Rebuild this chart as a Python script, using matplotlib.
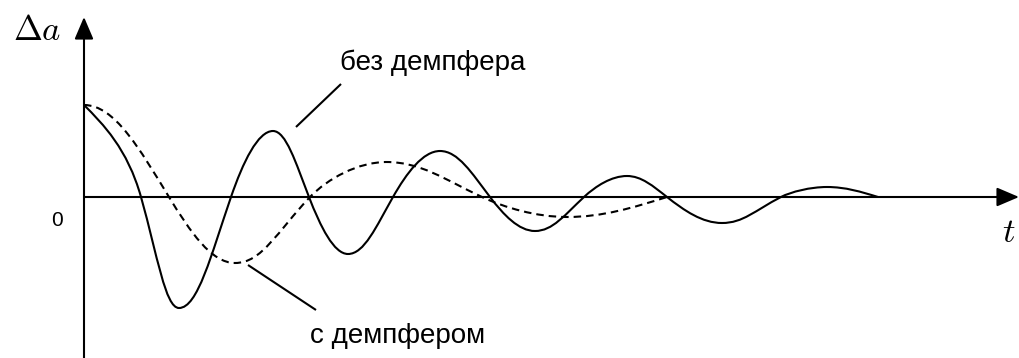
import numpy as np
import matplotlib
matplotlib.use("Agg")
import matplotlib.pyplot as plt
from matplotlib.path import Path
from matplotlib.patches import PathPatch

# ---- data (t in arbitrary time units, da = deviation) ----
# key points (start, zero crossings, extrema, end)
undamped_t = [0.00, 0.57, 0.95, 1.47, 1.89, 2.25, 2.64, 3.09, 3.56, 4.06, 4.51, 5.00, 5.43, 5.83, 6.38, 6.97, 7.43, 7.94]
undamped_a = [0.92, 0.00, -1.11, 0.00, 0.66, 0.00, -0.57, 0.00, 0.46, 0.00, -0.34, 0.00, 0.21, 0.00, -0.26, 0.00, 0.10, 0.00]
undamped_start_slope = -1.0

damped_t = [0.00, 0.85, 1.51, 2.26, 3.02, 3.98, 4.83, 5.83]
damped_a = [0.92, 0.00, -0.66, 0.00, 0.35, 0.00, -0.20, 0.00]
damped_start_slope = 0.0

label_undamped = "без демпфера"
label_damped = "с демпфером"
x_label = r"$t$"
y_label = r"$\Delta a$"
origin_label = "0"

Q = np.pi / 2


def slopes(ts, ys, start_slope):
    n = len(ts)
    m = np.zeros(n)
    for i in range(n):
        if i == 0:
            m[i] = start_slope
        elif ys[i] != 0:
            m[i] = 0.0
        elif i == n - 1:
            m[i] = -ys[i - 1] * Q / (ts[i] - ts[i - 1])
        else:
            left = -ys[i - 1] * Q / (ts[i] - ts[i - 1])
            right = ys[i + 1] * Q / (ts[i + 1] - ts[i])
            m[i] = 0.5 * (left + right)
    return m


def handle(i, j, ts, ys, m, is_start):
    """Control point next to key point i, heading towards key point j."""
    w = ts[j] - ts[i]               # signed
    h = abs(ys[j] - ys[i])
    if ys[i] == 0 and not is_start:   # zero crossing: sine-like handle
        k = 0.525 * h / max(abs(m[i]), 1e-9)
        k = min(k, 0.6 * abs(w))
        dx = np.sign(w) * k
    elif m[i] == 0:                  # extremum
        dx = 0.36 * w
    else:                            # start point with given slope
        dx = w / 3.0
    return (ts[i] + dx, ys[i] + m[i] * dx)


def smooth_path(ts, ys, start_slope):
    m = slopes(ts, ys, start_slope)
    verts = [(ts[0], ys[0])]
    codes = [Path.MOVETO]
    for i in range(len(ts) - 1):
        verts += [handle(i, i + 1, ts, ys, m, i == 0),
                  handle(i + 1, i, ts, ys, m, False),
                  (ts[i + 1], ys[i + 1])]
        codes += [Path.CURVE4] * 3
    return Path(verts, codes)


plt.rcParams['font.family'] = ['Liberation Sans', 'DejaVu Sans']
plt.rcParams['mathtext.fontset'] = 'cm'

fig = plt.figure(figsize=(10.19, 3.58), dpi=100)
ax = fig.add_axes([0, 0, 1, 1])
ax.set_xlim(-0.84, 9.35)
ax.set_ylim(-1.61, 1.97)
ax.axis('off')

lw = 1.5

# axes with arrows
arrow_kw = dict(arrowstyle='-|>,head_length=0.68,head_width=0.29', lw=lw,
                color='black', mutation_scale=20, shrinkA=0, shrinkB=0)
ax.annotate('', xy=(0, 1.80), xytext=(0, -1.61), arrowprops=arrow_kw)
ax.annotate('', xy=(9.35, 0), xytext=(0, 0), arrowprops=arrow_kw)

# curves
ax.add_patch(PathPatch(smooth_path(undamped_t, undamped_a, undamped_start_slope),
                       fill=False, lw=lw, edgecolor='black', capstyle='butt'))
ax.add_patch(PathPatch(smooth_path(damped_t, damped_a, damped_start_slope),
                       fill=False, lw=lw, edgecolor='black',
                       linestyle=(0, (3.6, 2.4)), capstyle='butt'))

# leader lines
ax.plot([2.12, 2.57], [0.70, 1.13], color='black', lw=lw, solid_capstyle='butt')
ax.plot([1.64, 2.32], [-0.68, -1.13], color='black', lw=lw, solid_capstyle='butt')

# labels
ax.text(2.56, 1.27, label_undamped, fontsize=20, ha='left', va='baseline')
ax.text(2.26, -1.46, label_damped, fontsize=20, ha='left', va='baseline')
ax.text(-0.27, -0.23, origin_label, fontsize=15, ha='center', va='center')
ax.text(-0.71, 1.57, y_label, fontsize=25, ha='left', va='baseline')
ax.text(9.18, -0.45, x_label, fontsize=25, ha='left', va='baseline')

fig.savefig('out.png', dpi=100)
